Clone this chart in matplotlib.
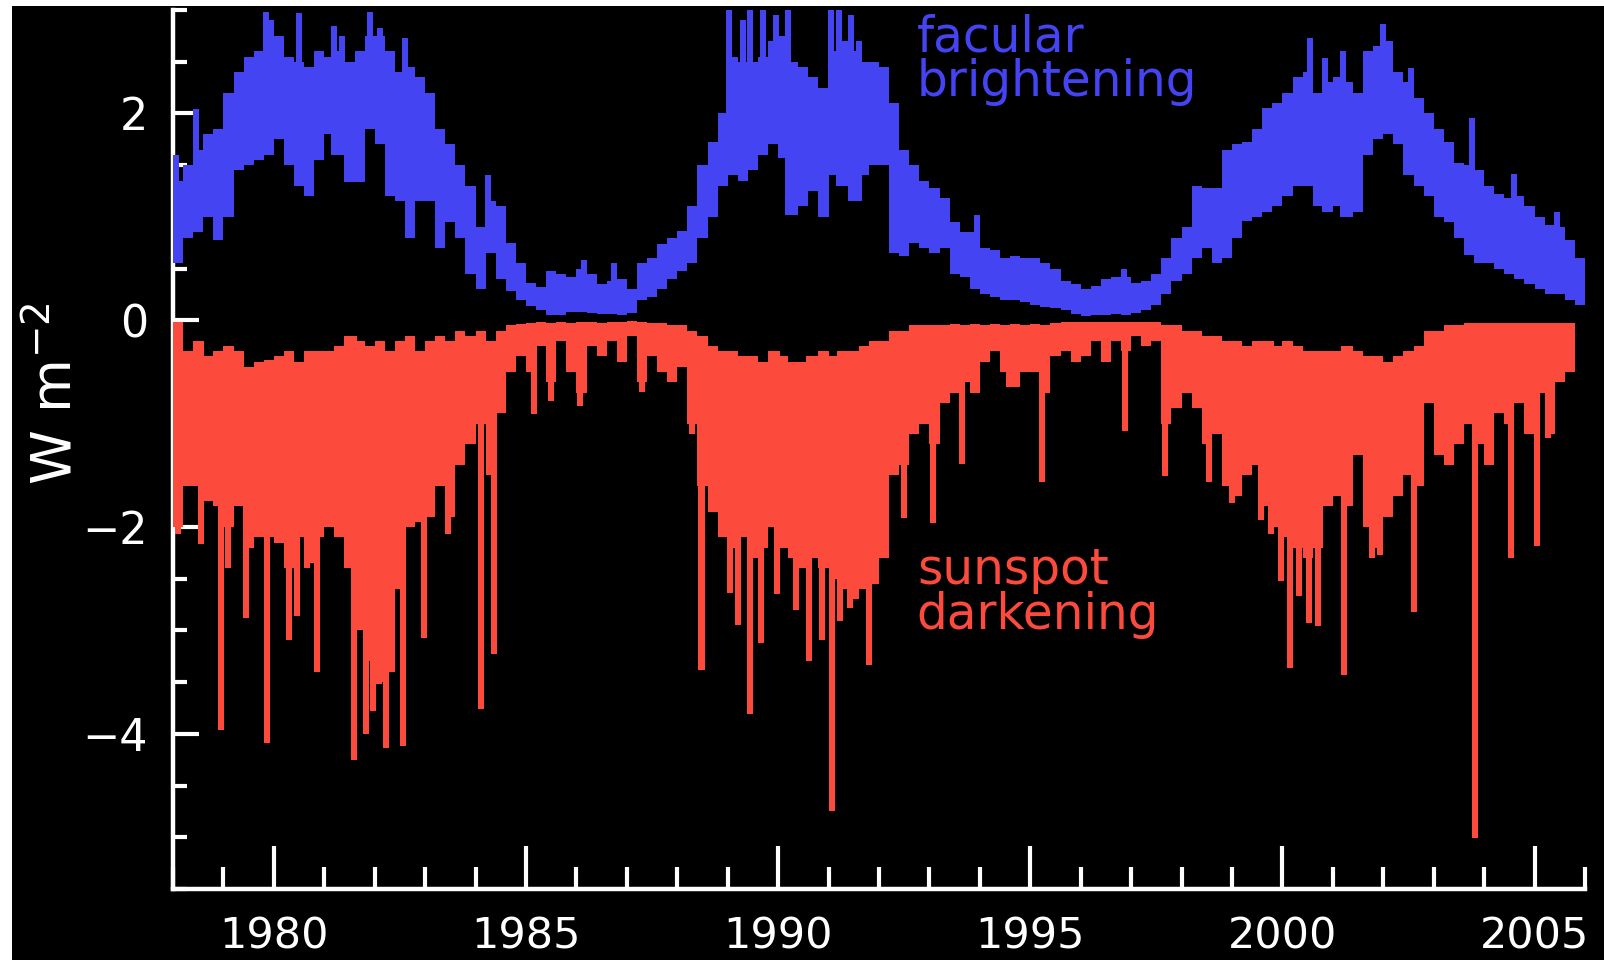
import numpy as np
import matplotlib
matplotlib.use("Agg")
import matplotlib.pyplot as plt
from matplotlib.ticker import MultipleLocator
from matplotlib.patches import Rectangle

# Irradiance components, binned in 0.2 yr steps from 1978.0 (one row = one year)
bin_start = 1978.0
bin_width = 0.2

facular_hi = [
    1.35, 1.5, 1.65, 1.8, 1.85,     # 1978
    2.2, 2.4, 2.55, 2.6, 2.7,       # 1979
    2.75, 2.55, 2.5, 2.45, 2.6,     # 1980
    2.55, 2.6, 2.5, 2.6, 2.75,      # 1981
    2.75, 2.6, 2.4, 2.45, 2.35,     # 1982
    2.2, 1.85, 1.7, 1.5, 1.3,       # 1983
    0.9, 1.15, 1.1, 0.75, 0.55,     # 1984
    0.36, 0.32, 0.48, 0.45, 0.42,   # 1985
    0.5, 0.45, 0.35, 0.38, 0.4,     # 1986
    0.3, 0.55, 0.6, 0.74, 0.8,      # 1987
    0.86, 1.1, 1.5, 1.72, 2.0,      # 1988
    2.55, 2.5, 2.5, 2.55, 2.7,      # 1989
    2.75, 2.5, 2.45, 2.35, 2.25,    # 1990
    2.6, 2.7, 2.6, 2.5, 2.5,        # 1991
    2.45, 2.1, 1.65, 1.5, 1.35,     # 1992
    1.28, 1.18, 0.95, 0.85, 0.85,   # 1993
    0.7, 0.68, 0.6, 0.62, 0.6,      # 1994
    0.6, 0.55, 0.5, 0.38, 0.35,     # 1995
    0.3, 0.33, 0.4, 0.42, 0.42,     # 1996
    0.36, 0.38, 0.45, 0.6, 0.8,     # 1997
    0.9, 1.3, 1.28, 1.28, 1.65,     # 1998
    1.7, 1.72, 1.85, 2.05, 2.1,     # 1999
    2.2, 2.35, 2.4, 2.2, 2.3,       # 2000
    2.35, 2.3, 2.2, 2.6, 2.65,      # 2001
    2.7, 2.4, 2.3, 2.15, 2.0,       # 2002
    1.85, 1.72, 1.52, 1.5, 1.45,    # 2003
    1.3, 1.22, 1.18, 1.2, 1.1,      # 2004
    1.0, 0.92, 0.9, 0.78, 0.6,      # 2005
]
facular_lo = [
    0.55, 0.8, 0.85, 1.0, 0.78,
    1.0, 1.45, 1.5, 1.55, 1.6,
    1.75, 1.5, 1.3, 1.2, 1.55,
    1.8, 1.6, 1.34, 1.34, 1.85,
    1.7, 1.2, 1.15, 0.8, 1.15,
    1.15, 0.7, 0.95, 0.8, 0.45,
    0.3, 0.65, 0.4, 0.28, 0.2,
    0.14, 0.1, 0.05, 0.05, 0.08,
    0.08, 0.07, 0.06, 0.06, 0.05,
    0.07, 0.2, 0.22, 0.3, 0.4,
    0.48, 0.55, 0.8, 1.0, 1.3,
    1.4, 1.35, 1.45, 1.6, 1.7,
    1.57, 1.02, 1.1, 1.25, 1.0,
    1.4, 1.3, 1.15, 1.4, 1.5,
    1.5, 0.65, 0.62, 0.75, 0.7,
    0.65, 0.7, 0.45, 0.42, 0.3,
    0.25, 0.22, 0.2, 0.2, 0.18,
    0.15, 0.13, 0.12, 0.1, 0.06,
    0.04, 0.05, 0.05, 0.06, 0.05,
    0.07, 0.1, 0.15, 0.25, 0.38,
    0.45, 0.6, 0.7, 0.55, 0.6,
    0.8, 0.96, 1.0, 1.05, 1.1,
    1.2, 1.3, 1.3, 1.1, 1.05,
    1.1, 1.0, 1.05, 1.6, 1.75,
    1.8, 1.7, 1.4, 1.3, 1.2,
    1.0, 0.95, 0.8, 0.63, 0.55,
    0.55, 0.5, 0.45, 0.4, 0.35,
    0.3, 0.25, 0.25, 0.2, 0.15,
]
# narrow facular peaks above the band
facular_peak_year = [1978.05, 1978.45, 1979.85, 1979.95, 1980.5, 1981.2, 1981.35,
                     1981.9, 1982.1, 1982.6, 1984.25, 1986.15, 1986.75, 1989.03,
                     1989.3, 1989.45, 1989.7, 1989.95, 1990.2, 1991.05, 1991.2,
                     1991.45, 1991.6, 1993.95, 1996.85, 2000.55, 2000.85, 2001.2,
                     2002.0, 2002.55, 2003.75, 2004.6, 2005.45]
facular_peak_top = [1.6, 2.04, 2.98, 2.9, 2.97, 2.85, 2.75,
                    2.98, 2.83, 2.73, 1.4, 0.58, 0.55, 3.0,
                    2.9, 3.0, 3.0, 2.95, 3.0, 3.0, 3.0,
                    2.95, 2.7, 1.02, 0.5, 2.73, 2.54, 2.6,
                    2.86, 2.44, 1.96, 1.41, 1.05]

spot_top = [
    -0.02, -0.3, -0.2, -0.35, -0.3,
    -0.25, -0.3, -0.45, -0.4, -0.38,
    -0.35, -0.3, -0.4, -0.3, -0.3,
    -0.3, -0.25, -0.15, -0.2, -0.25,
    -0.2, -0.3, -0.2, -0.15, -0.3,
    -0.2, -0.15, -0.2, -0.1, -0.15,
    -0.1, -0.2, -0.1, -0.05, -0.04,
    -0.03, -0.02, -0.03, -0.02, -0.03,
    -0.02, -0.02, -0.03, -0.02, -0.02,
    -0.01, -0.02, -0.03, -0.03, -0.05,
    -0.05, -0.1, -0.15, -0.25, -0.3,
    -0.3, -0.35, -0.35, -0.4, -0.3,
    -0.35, -0.4, -0.4, -0.35, -0.3,
    -0.35, -0.3, -0.3, -0.25, -0.2,
    -0.2, -0.1, -0.1, -0.05, -0.05,
    -0.05, -0.05, -0.04, -0.05, -0.04,
    -0.05, -0.04, -0.05, -0.04, -0.05,
    -0.04, -0.05, -0.03, -0.02, -0.02,
    -0.02, -0.02, -0.02, -0.02, -0.02,
    -0.02, -0.02, -0.02, -0.05, -0.05,
    -0.1, -0.1, -0.15, -0.15, -0.2,
    -0.2, -0.25, -0.2, -0.2, -0.25,
    -0.2, -0.25, -0.3, -0.3, -0.3,
    -0.3, -0.25, -0.3, -0.35, -0.35,
    -0.4, -0.35, -0.3, -0.25, -0.1,
    -0.1, -0.05, -0.05, -0.03, -0.03,
    -0.03, -0.03, -0.03, -0.03, -0.03,
    -0.03, -0.03, -0.03, -0.03,
]
spot_bottom = [
    -2.0, -1.6, -1.6, -1.75, -1.8,
    -2.0, -1.8, -2.2, -2.1, -2.1,
    -2.15, -2.4, -2.1, -2.35, -2.1,
    -2.0, -2.1, -2.4, -3.0, -3.3,
    -3.5, -3.4, -2.6, -2.0, -1.95,
    -1.9, -1.6, -1.9, -1.4, -1.2,
    -1.0, -1.5, -0.9, -0.5, -0.35,
    -0.5, -0.25, -0.6, -0.2, -0.5,
    -0.7, -0.25, -0.35, -0.2, -0.4,
    -0.15, -0.6, -0.35, -0.5, -0.6,
    -0.45, -1.0, -1.6, -1.85, -2.1,
    -2.2, -2.1, -2.3, -2.2, -2.0,
    -2.2, -2.3, -2.4, -2.3, -2.4,
    -2.5, -2.6, -2.7, -2.6, -2.55,
    -2.3, -1.5, -1.4, -1.1, -1.0,
    -1.2, -0.8, -0.7, -0.6, -0.7,
    -0.4, -0.3, -0.5, -0.65, -0.5,
    -0.5, -0.7, -0.35, -0.3, -0.4,
    -0.35, -0.2, -0.4, -0.2, -0.3,
    -0.15, -0.25, -0.2, -1.0, -0.85,
    -0.7, -0.85, -1.2, -1.1, -1.6,
    -1.7, -1.5, -1.4, -1.8, -2.0,
    -2.1, -2.2, -2.3, -2.2, -1.8,
    -1.7, -1.8, -1.3, -2.0, -2.2,
    -1.9, -1.7, -1.5, -1.6, -0.8,
    -1.3, -1.4, -1.2, -1.0, -1.2,
    -1.4, -0.9, -1.0, -0.8, -1.1,
    -0.7, -1.1, -0.6, -0.5,
]
# deep sunspot dips below the body
spot_dip_year = [1978.1, 1978.55, 1978.95, 1979.1, 1979.45, 1979.87, 1980.3, 1980.45,
                 1980.65, 1980.85, 1981.58, 1981.82, 1981.97, 1982.08, 1982.23,
                 1982.35, 1982.56, 1982.97, 1983.45, 1984.1, 1984.37, 1985.15,
                 1985.5, 1986.08, 1987.3, 1988.3, 1988.48, 1989.05, 1989.2,
                 1989.45, 1989.66, 1989.98, 1990.36, 1990.62, 1990.87, 1991.07,
                 1991.22, 1991.43, 1991.8, 1992.1, 1992.5, 1993.08, 1993.64,
                 1993.88, 1994.57, 1995.24, 1996.88, 1997.68, 1998.55, 1999.0,
                 1999.58, 1999.78, 1999.97, 2000.15, 2000.33, 2000.52, 2000.7,
                 2001.23, 2001.77, 2001.93, 2002.6, 2003.81, 2004.53, 2005.05,
                 2005.27]
spot_dip_depth = [-2.07, -2.16, -3.96, -2.4, -2.88, -4.09, -3.09, -2.86,
                  -2.4, -3.4, -4.25, -4.0, -3.78, -3.52, -4.14,
                  -3.3, -4.12, -3.07, -2.07, -3.76, -3.23, -0.91,
                  -0.78, -0.83, -0.69, -1.1, -3.38, -2.64, -2.95,
                  -3.81, -3.12, -2.65, -2.8, -3.3, -3.09, -4.75,
                  -2.91, -2.78, -3.33, -2.25, -1.91, -1.96, -1.39,
                  -0.69, -0.65, -1.56, -1.07, -1.51, -1.56, -1.77,
                  -1.93, -2.07, -2.52, -3.36, -2.67, -2.93, -2.96,
                  -3.43, -2.3, -2.27, -2.82, -5.01, -2.3, -2.18,
                  -1.14]

blue = "#4444f2"
red = "#fc4a3c"

fac_hi = np.array(facular_hi)
fac_lo = np.array(facular_lo)
spt_top = np.array(spot_top)
spt_bot = np.array(spot_bottom)
fac_edges = bin_start + bin_width * np.arange(len(fac_hi) + 1)
spt_edges = bin_start + bin_width * np.arange(len(spt_top) + 1)

fig = plt.figure(figsize=(16.04, 9.6), dpi=100, facecolor="white")
# black canvas with a thin white margin top and left
fig.add_artist(Rectangle((12 / 1604, 0), 1, 1 - 6 / 960, transform=fig.transFigure,
                         facecolor="black", edgecolor="none", zorder=-10))
ax = fig.add_axes([173 / 1604, 1 - 889 / 960, (1585 - 173) / 1604, (889 - 10) / 960])
ax.set_facecolor("black")

# facular brightening band + peaks
ax.stairs(fac_hi, fac_edges, baseline=fac_lo, fill=True, color=blue, lw=0, zorder=3)
idx = ((np.array(facular_peak_year) - bin_start) / bin_width).astype(int)
ax.bar(facular_peak_year, np.array(facular_peak_top) - fac_lo[idx], bottom=fac_lo[idx],
       width=0.12, color=blue, lw=0, zorder=3)

# sunspot darkening body + dips
ax.stairs(spt_top, spt_edges, baseline=spt_bot, fill=True, color=red, lw=0, zorder=3)
idx = ((np.array(spot_dip_year) - bin_start) / bin_width).astype(int)
ax.bar(spot_dip_year, np.array(spot_dip_depth) - spt_top[idx], bottom=spt_top[idx],
       width=0.12, color=red, lw=0, zorder=3)

ax.set_xlim(1978, 2006)
ax.set_ylim(-5.5, 3.0)

for side in ["top", "right"]:
    ax.spines[side].set_visible(False)
for side in ["left", "bottom"]:
    ax.spines[side].set_color("white")
    ax.spines[side].set_linewidth(3.2)

ax.xaxis.set_major_locator(MultipleLocator(5))
ax.xaxis.set_minor_locator(MultipleLocator(1))
ax.yaxis.set_major_locator(MultipleLocator(2))
ax.yaxis.set_minor_locator(MultipleLocator(0.5))

ax.tick_params(axis="x", which="major", direction="in", length=31, width=3,
               color="white", labelcolor="white", labelsize=31, pad=19)
ax.tick_params(axis="x", which="minor", direction="in", length=16, width=3, color="white")
ax.tick_params(axis="y", which="major", direction="in", length=19, width=3,
               color="white", labelcolor="white", labelsize=32, pad=18)
ax.tick_params(axis="y", which="minor", direction="in", length=10, width=3, color="white")

ax.set_ylabel(r"W m$^{-2}$", color="white", fontsize=40)
ax.yaxis.set_label_coords(-0.063, 0.564)

ax.text(1992.75, 2.97, "facular\nbrightening", color=blue, fontsize=35,
        va="top", ha="left", linespacing=0.93)
ax.text(1992.75, -2.18, "sunspot\ndarkening", color=red, fontsize=35,
        va="top", ha="left", linespacing=0.93)

fig.savefig("out.png", dpi=100, facecolor=fig.get_facecolor())
